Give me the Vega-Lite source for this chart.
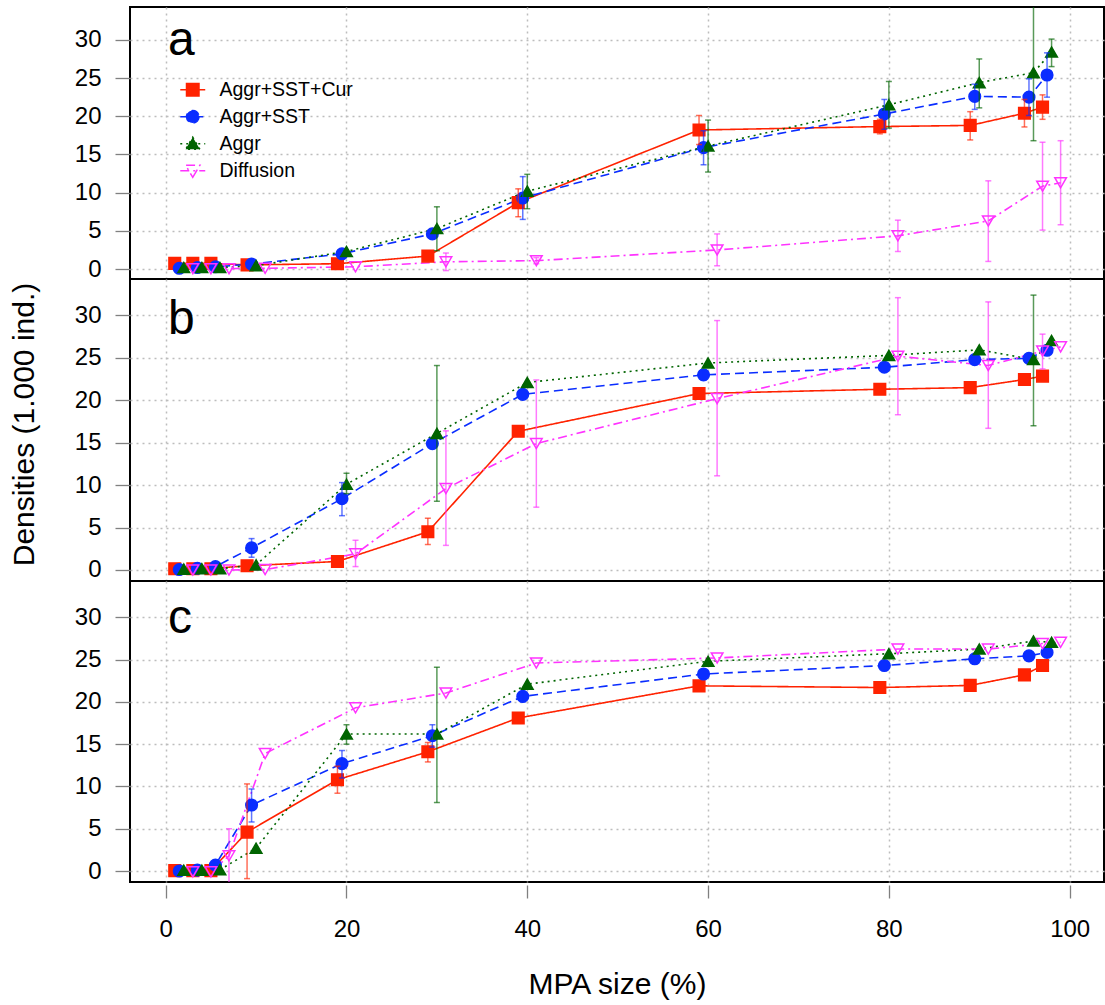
{
  "$schema": "https://vega.github.io/schema/vega-lite/v6.json",
  "background": "white",
  "padding": {"left": 8, "top": 6, "right": 0, "bottom": 0},
  "spacing": 0,
  "bounds": "flush",
  "config": {
    "font": "Liberation Sans",
    "view": {"stroke": "#000000", "strokeWidth": 2},
    "axis": {
      "grid": true, "gridColor": "#bdbdbd", "gridDash": [2, 4], "gridWidth": 1.5,
      "domain": false, "tickColor": "#808080", "tickWidth": 1.3,
      "labelColor": "#000000", "labelFont": "Liberation Sans", "labelFontSize": 24,
      "titleFont": "Liberation Sans", "titleFontWeight": "normal", "titleColor": "#000000"
    }
  },
  "resolve": {"legend": {"stroke": "independent", "strokeDash": "independent", "shape": "independent", "fill": "independent", "color": "independent"}},
  "datasets": {
    "pts": [
      {"p":"a","s":"Aggr+SST+Cur","x":1,"y":0.75},{"p":"a","s":"Aggr+SST+Cur","x":3,"y":0.75},{"p":"a","s":"Aggr+SST+Cur","x":5,"y":0.75},{"p":"a","s":"Aggr+SST+Cur","x":9,"y":0.55},{"p":"a","s":"Aggr+SST+Cur","x":19,"y":0.7},{"p":"a","s":"Aggr+SST+Cur","x":29,"y":1.7},{"p":"a","s":"Aggr+SST+Cur","x":39,"y":8.7},{"p":"a","s":"Aggr+SST+Cur","x":59,"y":18.2},{"p":"a","s":"Aggr+SST+Cur","x":79,"y":18.65},{"p":"a","s":"Aggr+SST+Cur","x":89,"y":18.8},{"p":"a","s":"Aggr+SST+Cur","x":95,"y":20.4},{"p":"a","s":"Aggr+SST+Cur","x":97,"y":21.2},
      {"p":"a","s":"Aggr+SST","x":1.5,"y":0.1},{"p":"a","s":"Aggr+SST","x":3.5,"y":0.2},{"p":"a","s":"Aggr+SST","x":5.5,"y":0.3},{"p":"a","s":"Aggr+SST","x":9.5,"y":0.65},{"p":"a","s":"Aggr+SST","x":19.5,"y":2.0},{"p":"a","s":"Aggr+SST","x":29.5,"y":4.6},{"p":"a","s":"Aggr+SST","x":39.5,"y":9.3},{"p":"a","s":"Aggr+SST","x":59.5,"y":15.9},{"p":"a","s":"Aggr+SST","x":79.5,"y":20.3},{"p":"a","s":"Aggr+SST","x":89.5,"y":22.6},{"p":"a","s":"Aggr+SST","x":95.5,"y":22.5},{"p":"a","s":"Aggr+SST","x":97.5,"y":25.4},
      {"p":"a","s":"Aggr","x":2,"y":0.2},{"p":"a","s":"Aggr","x":4,"y":0.2},{"p":"a","s":"Aggr","x":6,"y":0.2},{"p":"a","s":"Aggr","x":10,"y":0.45},{"p":"a","s":"Aggr","x":20,"y":2.3},{"p":"a","s":"Aggr","x":30,"y":5.3},{"p":"a","s":"Aggr","x":40,"y":10.2},{"p":"a","s":"Aggr","x":60,"y":16.1},{"p":"a","s":"Aggr","x":80,"y":21.5},{"p":"a","s":"Aggr","x":90,"y":24.4},{"p":"a","s":"Aggr","x":96,"y":25.7},{"p":"a","s":"Aggr","x":98,"y":28.4},
      {"p":"a","s":"Diffusion","x":3,"y":0.05},{"p":"a","s":"Diffusion","x":5,"y":0.05},{"p":"a","s":"Diffusion","x":7,"y":0.05},{"p":"a","s":"Diffusion","x":11,"y":0.1},{"p":"a","s":"Diffusion","x":21,"y":0.3},{"p":"a","s":"Diffusion","x":31,"y":0.95},{"p":"a","s":"Diffusion","x":41,"y":1.1},{"p":"a","s":"Diffusion","x":61,"y":2.5},{"p":"a","s":"Diffusion","x":81,"y":4.35},{"p":"a","s":"Diffusion","x":91,"y":6.3},{"p":"a","s":"Diffusion","x":97,"y":10.85},{"p":"a","s":"Diffusion","x":99,"y":11.3},
      {"p":"b","s":"Aggr+SST+Cur","x":1,"y":0.15},{"p":"b","s":"Aggr+SST+Cur","x":3,"y":0.15},{"p":"b","s":"Aggr+SST+Cur","x":5,"y":0.15},{"p":"b","s":"Aggr+SST+Cur","x":9,"y":0.5},{"p":"b","s":"Aggr+SST+Cur","x":19,"y":1.0},{"p":"b","s":"Aggr+SST+Cur","x":29,"y":4.5},{"p":"b","s":"Aggr+SST+Cur","x":39,"y":16.35},{"p":"b","s":"Aggr+SST+Cur","x":59,"y":20.8},{"p":"b","s":"Aggr+SST+Cur","x":79,"y":21.3},{"p":"b","s":"Aggr+SST+Cur","x":89,"y":21.5},{"p":"b","s":"Aggr+SST+Cur","x":95,"y":22.45},{"p":"b","s":"Aggr+SST+Cur","x":97,"y":22.85},
      {"p":"b","s":"Aggr+SST","x":1.5,"y":0.05},{"p":"b","s":"Aggr+SST","x":3.5,"y":0.2},{"p":"b","s":"Aggr+SST","x":5.5,"y":0.4},{"p":"b","s":"Aggr+SST","x":9.5,"y":2.6},{"p":"b","s":"Aggr+SST","x":19.5,"y":8.4},{"p":"b","s":"Aggr+SST","x":29.5,"y":14.9},{"p":"b","s":"Aggr+SST","x":39.5,"y":20.7},{"p":"b","s":"Aggr+SST","x":59.5,"y":23.0},{"p":"b","s":"Aggr+SST","x":79.5,"y":23.9},{"p":"b","s":"Aggr+SST","x":89.5,"y":24.8},{"p":"b","s":"Aggr+SST","x":95.5,"y":24.95},{"p":"b","s":"Aggr+SST","x":97.5,"y":25.9},
      {"p":"b","s":"Aggr","x":2,"y":0.1},{"p":"b","s":"Aggr","x":4,"y":0.15},{"p":"b","s":"Aggr","x":6,"y":0.15},{"p":"b","s":"Aggr","x":10,"y":0.6},{"p":"b","s":"Aggr","x":20,"y":10.1},{"p":"b","s":"Aggr","x":30,"y":16.1},{"p":"b","s":"Aggr","x":40,"y":22.1},{"p":"b","s":"Aggr","x":60,"y":24.4},{"p":"b","s":"Aggr","x":80,"y":25.3},{"p":"b","s":"Aggr","x":90,"y":25.95},{"p":"b","s":"Aggr","x":96,"y":24.8},{"p":"b","s":"Aggr","x":98,"y":27.05},
      {"p":"b","s":"Diffusion","x":3,"y":0},{"p":"b","s":"Diffusion","x":5,"y":0},{"p":"b","s":"Diffusion","x":7,"y":0},{"p":"b","s":"Diffusion","x":11,"y":0.05},{"p":"b","s":"Diffusion","x":21,"y":1.9},{"p":"b","s":"Diffusion","x":31,"y":9.6},{"p":"b","s":"Diffusion","x":41,"y":14.9},{"p":"b","s":"Diffusion","x":61,"y":20.2},{"p":"b","s":"Diffusion","x":81,"y":25.2},{"p":"b","s":"Diffusion","x":91,"y":24.1},{"p":"b","s":"Diffusion","x":97,"y":25.8},{"p":"b","s":"Diffusion","x":99,"y":26.3},
      {"p":"c","s":"Aggr+SST+Cur","x":1,"y":0.05},{"p":"c","s":"Aggr+SST+Cur","x":3,"y":0.05},{"p":"c","s":"Aggr+SST+Cur","x":5,"y":0.05},{"p":"c","s":"Aggr+SST+Cur","x":9,"y":4.6},{"p":"c","s":"Aggr+SST+Cur","x":19,"y":10.8},{"p":"c","s":"Aggr+SST+Cur","x":29,"y":14.1},{"p":"c","s":"Aggr+SST+Cur","x":39,"y":18.1},{"p":"c","s":"Aggr+SST+Cur","x":59,"y":21.9},{"p":"c","s":"Aggr+SST+Cur","x":79,"y":21.7},{"p":"c","s":"Aggr+SST+Cur","x":89,"y":21.95},{"p":"c","s":"Aggr+SST+Cur","x":95,"y":23.2},{"p":"c","s":"Aggr+SST+Cur","x":97,"y":24.3},
      {"p":"c","s":"Aggr+SST","x":1.5,"y":0},{"p":"c","s":"Aggr+SST","x":3.5,"y":0.1},{"p":"c","s":"Aggr+SST","x":5.5,"y":0.7},{"p":"c","s":"Aggr+SST","x":9.5,"y":7.8},{"p":"c","s":"Aggr+SST","x":19.5,"y":12.7},{"p":"c","s":"Aggr+SST","x":29.5,"y":16.0},{"p":"c","s":"Aggr+SST","x":39.5,"y":20.65},{"p":"c","s":"Aggr+SST","x":59.5,"y":23.3},{"p":"c","s":"Aggr+SST","x":79.5,"y":24.3},{"p":"c","s":"Aggr+SST","x":89.5,"y":25.1},{"p":"c","s":"Aggr+SST","x":95.5,"y":25.45},{"p":"c","s":"Aggr+SST","x":97.5,"y":25.85},
      {"p":"c","s":"Aggr","x":2,"y":0.1},{"p":"c","s":"Aggr","x":4,"y":0.1},{"p":"c","s":"Aggr","x":6,"y":0.15},{"p":"c","s":"Aggr","x":10,"y":2.7},{"p":"c","s":"Aggr","x":20,"y":16.2},{"p":"c","s":"Aggr","x":30,"y":16.2},{"p":"c","s":"Aggr","x":40,"y":22.1},{"p":"c","s":"Aggr","x":60,"y":24.8},{"p":"c","s":"Aggr","x":80,"y":25.7},{"p":"c","s":"Aggr","x":90,"y":26.25},{"p":"c","s":"Aggr","x":96,"y":27.2},{"p":"c","s":"Aggr","x":98,"y":27.05},
      {"p":"c","s":"Diffusion","x":3,"y":-0.1},{"p":"c","s":"Diffusion","x":5,"y":-0.1},{"p":"c","s":"Diffusion","x":7,"y":1.8},{"p":"c","s":"Diffusion","x":11,"y":13.9},{"p":"c","s":"Diffusion","x":21,"y":19.3},{"p":"c","s":"Diffusion","x":31,"y":21.05},{"p":"c","s":"Diffusion","x":41,"y":24.6},{"p":"c","s":"Diffusion","x":61,"y":25.2},{"p":"c","s":"Diffusion","x":81,"y":26.25},{"p":"c","s":"Diffusion","x":91,"y":26.25},{"p":"c","s":"Diffusion","x":97,"y":26.9},{"p":"c","s":"Diffusion","x":99,"y":27.05}
    ],
    "err": [
      {"p":"a","s":"Aggr+SST+Cur","x":39,"lo":6.85,"hi":10.5},{"p":"a","s":"Aggr+SST+Cur","x":59,"lo":16.3,"hi":20.1},{"p":"a","s":"Aggr+SST+Cur","x":79,"lo":17.7,"hi":19.6},{"p":"a","s":"Aggr+SST+Cur","x":89,"lo":16.9,"hi":20.6},{"p":"a","s":"Aggr+SST+Cur","x":95,"lo":18.6,"hi":22.2},{"p":"a","s":"Aggr+SST+Cur","x":97,"lo":19.6,"hi":22.8},
      {"p":"a","s":"Aggr+SST","x":39.5,"lo":6.5,"hi":12.1},{"p":"a","s":"Aggr+SST","x":59.5,"lo":13.65,"hi":18.1},{"p":"a","s":"Aggr+SST","x":79.5,"lo":18.3,"hi":22.2},{"p":"a","s":"Aggr+SST","x":89.5,"lo":20.9,"hi":24.2},{"p":"a","s":"Aggr+SST","x":95.5,"lo":20.1,"hi":24.9},{"p":"a","s":"Aggr+SST","x":97.5,"lo":22.5,"hi":28.3},
      {"p":"a","s":"Aggr","x":30,"lo":2.4,"hi":8.15},{"p":"a","s":"Aggr","x":40,"lo":7.9,"hi":12.4},{"p":"a","s":"Aggr","x":60,"lo":12.7,"hi":19.5},{"p":"a","s":"Aggr","x":80,"lo":18.45,"hi":24.55},{"p":"a","s":"Aggr","x":90,"lo":21.1,"hi":27.5},{"p":"a","s":"Aggr","x":96,"lo":16.8,"hi":34.6},{"p":"a","s":"Aggr","x":98,"lo":26.5,"hi":30.1},
      {"p":"a","s":"Diffusion","x":31,"lo":-0.2,"hi":2.1},{"p":"a","s":"Diffusion","x":41,"lo":0.7,"hi":1.5},{"p":"a","s":"Diffusion","x":61,"lo":0.43,"hi":4.6},{"p":"a","s":"Diffusion","x":81,"lo":2.3,"hi":6.4},{"p":"a","s":"Diffusion","x":91,"lo":1.0,"hi":11.55},{"p":"a","s":"Diffusion","x":97,"lo":5.1,"hi":16.6},{"p":"a","s":"Diffusion","x":99,"lo":5.8,"hi":16.8},
      {"p":"b","s":"Aggr+SST+Cur","x":29,"lo":3.0,"hi":6.1},
      {"p":"b","s":"Aggr+SST","x":9.5,"lo":1.5,"hi":3.7},{"p":"b","s":"Aggr+SST","x":19.5,"lo":6.4,"hi":10.3},{"p":"b","s":"Aggr+SST","x":59.5,"lo":22.4,"hi":23.6},
      {"p":"b","s":"Aggr","x":20,"lo":9.0,"hi":11.4},{"p":"b","s":"Aggr","x":30,"lo":8.1,"hi":24.1},{"p":"b","s":"Aggr","x":96,"lo":17.0,"hi":32.4},
      {"p":"b","s":"Diffusion","x":21,"lo":0.4,"hi":3.5},{"p":"b","s":"Diffusion","x":31,"lo":2.9,"hi":16.4},{"p":"b","s":"Diffusion","x":41,"lo":7.4,"hi":22.4},{"p":"b","s":"Diffusion","x":61,"lo":11.1,"hi":29.4},{"p":"b","s":"Diffusion","x":81,"lo":18.3,"hi":32.1},{"p":"b","s":"Diffusion","x":91,"lo":16.7,"hi":31.6},{"p":"b","s":"Diffusion","x":97,"lo":23.7,"hi":27.8},
      {"p":"c","s":"Aggr+SST+Cur","x":9,"lo":-0.9,"hi":10.3},{"p":"c","s":"Aggr+SST+Cur","x":19,"lo":9.2,"hi":12.4},{"p":"c","s":"Aggr+SST+Cur","x":29,"lo":12.9,"hi":15.2},
      {"p":"c","s":"Aggr+SST","x":9.5,"lo":5.8,"hi":9.7},{"p":"c","s":"Aggr+SST","x":19.5,"lo":11.0,"hi":14.25},{"p":"c","s":"Aggr+SST","x":29.5,"lo":14.65,"hi":17.3},{"p":"c","s":"Aggr+SST","x":39.5,"lo":20.0,"hi":21.2},
      {"p":"c","s":"Aggr","x":20,"lo":15.0,"hi":17.3},{"p":"c","s":"Aggr","x":30,"lo":8.1,"hi":24.1},
      {"p":"c","s":"Diffusion","x":7,"lo":-1.5,"hi":5.0}
    ]
  },
  "vconcat": [
    {
      "width": 974, "height": 272,
      "layer": [
        {"data": {"name": "pts"}, "transform": [{"filter": "datum.p === 'a'"}],
         "mark": {"type": "line", "strokeWidth": 1.6},
         "encoding": {
           "x": {"field": "x", "type": "quantitative", "scale": {"domain": [-3.95, 103.8], "nice": false, "zero": false}, "axis": {"values": [0,20,40,60,80,100], "labels": false, "ticks": false, "title": null}},
           "y": {"field": "y", "type": "quantitative", "scale": {"domain": [-1.3, 34.3], "nice": false, "zero": false}, "axis": {"values": [0,5,10,15,20,25,30], "title": null, "tickSize": 15, "labelPadding": 14}},
           "stroke": {"field": "s", "type": "nominal", "scale": {"domain": ["Aggr+SST+Cur","Aggr+SST","Aggr","Diffusion"], "range": ["#ff2200","#0a2dff","#006400","#ff33ff"]},
             "legend": {"title": null, "orient": "none", "legendX": 53, "legendY": 73, "padding": 0, "labelFontSize": 19.5, "labelColor": "#000000", "labelLimit": 400, "symbolSize": 156, "symbolStrokeWidth": 1.5, "labelOffset": 17, "rowPadding": 6,
               "encode": {"symbols": {"update": {
                 "size": {"value": 156},
                 "shape": {"signal": "datum.value === 'Aggr+SST+Cur' ? 'M-2,0H2M-1,-1H1V1H-1Z' : datum.value === 'Aggr+SST' ? 'M-2,0H2M1,0A1 1 0 1 1 -1,0A1 1 0 1 1 1,0Z' : datum.value === 'Aggr' ? 'M-2,0H2M0,-1.05L1.15,0.9H-1.15Z' : 'M-2,0H2M0,1.05L1.15,-0.9H-1.15Z'"},
                 "fill": {"signal": "datum.value === 'Aggr+SST+Cur' ? '#ff2200' : datum.value === 'Aggr+SST' ? '#0a2dff' : datum.value === 'Aggr' ? '#006400' : 'transparent'"},
                 "strokeDash": {"signal": "datum.value === 'Aggr+SST+Cur' ? [1,0] : datum.value === 'Aggr+SST' ? [9,5] : datum.value === 'Aggr' ? [2,4] : [9,4,2,4]"},
                 "strokeWidth": {"value": 1.5},
                 "opacity": {"value": 1}
               }}}}},
           "strokeDash": {"field": "s", "type": "nominal", "scale": {"domain": ["Diffusion","Aggr","Aggr+SST","Aggr+SST+Cur"], "range": [[9,4,2,4],[2,4],[9,5],[1,0]]}, "legend": null}
         }},
        {"data": {"name": "pts"}, "transform": [{"filter": "datum.p === 'a'"}],
         "mark": {"type": "point", "size": 135, "strokeWidth": 1.5, "opacity": 1},
         "encoding": {
           "x": {"field": "x", "type": "quantitative", "scale": {"domain": [-3.95, 103.8], "nice": false, "zero": false}, "axis": {"values": [0,20,40,60,80,100], "labels": false, "ticks": false, "title": null}},
           "y": {"field": "y", "type": "quantitative", "scale": {"domain": [-1.3, 34.3], "nice": false, "zero": false}, "axis": {"values": [0,5,10,15,20,25,30], "title": null, "tickSize": 15, "labelPadding": 14}},
           "stroke": {"field": "s", "type": "nominal", "scale": {"domain": ["Aggr+SST+Cur","Aggr+SST","Aggr","Diffusion"], "range": ["#ff2200","#0a2dff","#006400","#ff33ff"]},
             "legend": {"title": null, "orient": "none", "legendX": 53, "legendY": 73, "padding": 0, "labelFontSize": 19.5, "labelColor": "#000000", "labelLimit": 400, "symbolSize": 156, "symbolStrokeWidth": 1.5, "labelOffset": 17, "rowPadding": 6,
               "encode": {"symbols": {"update": {
                 "size": {"value": 156},
                 "shape": {"signal": "datum.value === 'Aggr+SST+Cur' ? 'M-2,0H2M-1,-1H1V1H-1Z' : datum.value === 'Aggr+SST' ? 'M-2,0H2M1,0A1 1 0 1 1 -1,0A1 1 0 1 1 1,0Z' : datum.value === 'Aggr' ? 'M-2,0H2M0,-1.05L1.15,0.9H-1.15Z' : 'M-2,0H2M0,1.05L1.15,-0.9H-1.15Z'"},
                 "fill": {"signal": "datum.value === 'Aggr+SST+Cur' ? '#ff2200' : datum.value === 'Aggr+SST' ? '#0a2dff' : datum.value === 'Aggr' ? '#006400' : 'transparent'"},
                 "strokeDash": {"signal": "datum.value === 'Aggr+SST+Cur' ? [1,0] : datum.value === 'Aggr+SST' ? [9,5] : datum.value === 'Aggr' ? [2,4] : [9,4,2,4]"},
                 "strokeWidth": {"value": 1.5},
                 "opacity": {"value": 1}
               }}}}},
           "fill": {"field": "s", "type": "nominal", "scale": {"domain": ["Diffusion","Aggr","Aggr+SST","Aggr+SST+Cur"], "range": ["transparent","#006400","#0a2dff","#ff2200"]}, "legend": null},
           "shape": {"field": "s", "type": "nominal", "scale": {"domain": ["Diffusion","Aggr","Aggr+SST","Aggr+SST+Cur"], "range": ["triangle-down","triangle-up","circle","square"]}, "legend": null}
         }},
        {"data": {"name": "err"}, "transform": [{"filter": "datum.p === 'a'"}],
         "mark": {"type": "rule", "strokeWidth": 1.5, "opacity": 0.65, "clip": true},
         "encoding": {
           "x": {"field": "x", "type": "quantitative", "scale": {"domain": [-3.95, 103.8], "nice": false, "zero": false}, "axis": {"values": [0,20,40,60,80,100], "labels": false, "ticks": false, "title": null}},
           "y": {"field": "lo", "type": "quantitative", "scale": {"domain": [-1.3, 34.3], "nice": false, "zero": false}, "axis": {"values": [0,5,10,15,20,25,30], "title": null, "tickSize": 15, "labelPadding": 14}},
           "y2": {"field": "hi"},
           "color": {"field": "s", "type": "nominal", "scale": {"domain": ["Aggr+SST","Aggr+SST+Cur","Diffusion","Aggr"], "range": ["#0a2dff","#ff2200","#ff33ff","#006400"]}, "legend": null}
         }},
        {"data": {"name": "err"}, "transform": [{"filter": "datum.p === 'a'"}],
         "mark": {"type": "tick", "orient": "horizontal", "size": 6, "thickness": 1.5, "opacity": 0.65, "clip": true},
         "encoding": {
           "x": {"field": "x", "type": "quantitative", "scale": {"domain": [-3.95, 103.8], "nice": false, "zero": false}, "axis": {"values": [0,20,40,60,80,100], "labels": false, "ticks": false, "title": null}},
           "y": {"field": "lo", "type": "quantitative", "scale": {"domain": [-1.3, 34.3], "nice": false, "zero": false}, "axis": {"values": [0,5,10,15,20,25,30], "title": null, "tickSize": 15, "labelPadding": 14}},
           "color": {"field": "s", "type": "nominal", "scale": {"domain": ["Aggr+SST","Aggr+SST+Cur","Diffusion","Aggr"], "range": ["#0a2dff","#ff2200","#ff33ff","#006400"]}, "legend": null}
         }},
        {"data": {"name": "err"}, "transform": [{"filter": "datum.p === 'a'"}],
         "mark": {"type": "tick", "orient": "horizontal", "size": 6, "thickness": 1.5, "opacity": 0.65, "clip": true},
         "encoding": {
           "x": {"field": "x", "type": "quantitative", "scale": {"domain": [-3.95, 103.8], "nice": false, "zero": false}, "axis": {"values": [0,20,40,60,80,100], "labels": false, "ticks": false, "title": null}},
           "y": {"field": "hi", "type": "quantitative", "scale": {"domain": [-1.3, 34.3], "nice": false, "zero": false}, "axis": {"values": [0,5,10,15,20,25,30], "title": null, "tickSize": 15, "labelPadding": 14}},
           "color": {"field": "s", "type": "nominal", "scale": {"domain": ["Aggr+SST","Aggr+SST+Cur","Diffusion","Aggr"], "range": ["#0a2dff","#ff2200","#ff33ff","#006400"]}, "legend": null}
         }},
        {"data": {"values": [{"t": "a"}]},
         "mark": {"type": "text", "fontSize": 48, "align": "left", "baseline": "alphabetic", "color": "#000000"},
         "encoding": {
           "x": {"datum": 0.25, "type": "quantitative", "scale": {"domain": [-3.95, 103.8], "nice": false, "zero": false}},
           "y": {"datum": 28, "type": "quantitative", "scale": {"domain": [-1.3, 34.3], "nice": false, "zero": false}},
           "text": {"field": "t"}
         }}
      ]
    },
    {
      "width": 974, "height": 302,
      "layer": [
        {"data": {"name": "pts"}, "transform": [{"filter": "datum.p === 'b'"}],
         "mark": {"type": "line", "strokeWidth": 1.6},
         "encoding": {
           "x": {"field": "x", "type": "quantitative", "scale": {"domain": [-3.95, 103.8], "nice": false, "zero": false}, "axis": {"values": [0,20,40,60,80,100], "labels": false, "ticks": false, "title": null}},
           "y": {"field": "y", "type": "quantitative", "scale": {"domain": [-1.3, 34.3], "nice": false, "zero": false}, "axis": {"values": [0,5,10,15,20,25,30], "title": "Densities (1.000 ind.)", "titleFontSize": 30, "titlePadding": 35, "titleY": 145, "tickSize": 15, "labelPadding": 14}},
           "stroke": {"field": "s", "type": "nominal", "scale": {"domain": ["Aggr+SST+Cur","Aggr+SST","Aggr","Diffusion"], "range": ["#ff2200","#0a2dff","#006400","#ff33ff"]}, "legend": null},
           "strokeDash": {"field": "s", "type": "nominal", "scale": {"domain": ["Diffusion","Aggr","Aggr+SST","Aggr+SST+Cur"], "range": [[9,4,2,4],[2,4],[9,5],[1,0]]}, "legend": null}
         }},
        {"data": {"name": "pts"}, "transform": [{"filter": "datum.p === 'b'"}],
         "mark": {"type": "point", "size": 135, "strokeWidth": 1.5, "opacity": 1},
         "encoding": {
           "x": {"field": "x", "type": "quantitative", "scale": {"domain": [-3.95, 103.8], "nice": false, "zero": false}, "axis": {"values": [0,20,40,60,80,100], "labels": false, "ticks": false, "title": null}},
           "y": {"field": "y", "type": "quantitative", "scale": {"domain": [-1.3, 34.3], "nice": false, "zero": false}, "axis": {"values": [0,5,10,15,20,25,30], "title": "Densities (1.000 ind.)", "titleFontSize": 30, "titlePadding": 35, "titleY": 145, "tickSize": 15, "labelPadding": 14}},
           "stroke": {"field": "s", "type": "nominal", "scale": {"domain": ["Aggr+SST+Cur","Aggr+SST","Aggr","Diffusion"], "range": ["#ff2200","#0a2dff","#006400","#ff33ff"]}, "legend": null},
           "fill": {"field": "s", "type": "nominal", "scale": {"domain": ["Diffusion","Aggr","Aggr+SST","Aggr+SST+Cur"], "range": ["transparent","#006400","#0a2dff","#ff2200"]}, "legend": null},
           "shape": {"field": "s", "type": "nominal", "scale": {"domain": ["Diffusion","Aggr","Aggr+SST","Aggr+SST+Cur"], "range": ["triangle-down","triangle-up","circle","square"]}, "legend": null}
         }},
        {"data": {"name": "err"}, "transform": [{"filter": "datum.p === 'b'"}],
         "mark": {"type": "rule", "strokeWidth": 1.5, "opacity": 0.65, "clip": true},
         "encoding": {
           "x": {"field": "x", "type": "quantitative", "scale": {"domain": [-3.95, 103.8], "nice": false, "zero": false}, "axis": {"values": [0,20,40,60,80,100], "labels": false, "ticks": false, "title": null}},
           "y": {"field": "lo", "type": "quantitative", "scale": {"domain": [-1.3, 34.3], "nice": false, "zero": false}, "axis": {"values": [0,5,10,15,20,25,30], "title": "Densities (1.000 ind.)", "titleFontSize": 30, "titlePadding": 35, "titleY": 145, "tickSize": 15, "labelPadding": 14}},
           "y2": {"field": "hi"},
           "color": {"field": "s", "type": "nominal", "scale": {"domain": ["Aggr+SST","Aggr+SST+Cur","Diffusion","Aggr"], "range": ["#0a2dff","#ff2200","#ff33ff","#006400"]}, "legend": null}
         }},
        {"data": {"name": "err"}, "transform": [{"filter": "datum.p === 'b'"}],
         "mark": {"type": "tick", "orient": "horizontal", "size": 6, "thickness": 1.5, "opacity": 0.65, "clip": true},
         "encoding": {
           "x": {"field": "x", "type": "quantitative", "scale": {"domain": [-3.95, 103.8], "nice": false, "zero": false}, "axis": {"values": [0,20,40,60,80,100], "labels": false, "ticks": false, "title": null}},
           "y": {"field": "lo", "type": "quantitative", "scale": {"domain": [-1.3, 34.3], "nice": false, "zero": false}, "axis": {"values": [0,5,10,15,20,25,30], "title": "Densities (1.000 ind.)", "titleFontSize": 30, "titlePadding": 35, "titleY": 145, "tickSize": 15, "labelPadding": 14}},
           "color": {"field": "s", "type": "nominal", "scale": {"domain": ["Aggr+SST","Aggr+SST+Cur","Diffusion","Aggr"], "range": ["#0a2dff","#ff2200","#ff33ff","#006400"]}, "legend": null}
         }},
        {"data": {"name": "err"}, "transform": [{"filter": "datum.p === 'b'"}],
         "mark": {"type": "tick", "orient": "horizontal", "size": 6, "thickness": 1.5, "opacity": 0.65, "clip": true},
         "encoding": {
           "x": {"field": "x", "type": "quantitative", "scale": {"domain": [-3.95, 103.8], "nice": false, "zero": false}, "axis": {"values": [0,20,40,60,80,100], "labels": false, "ticks": false, "title": null}},
           "y": {"field": "hi", "type": "quantitative", "scale": {"domain": [-1.3, 34.3], "nice": false, "zero": false}, "axis": {"values": [0,5,10,15,20,25,30], "title": "Densities (1.000 ind.)", "titleFontSize": 30, "titlePadding": 35, "titleY": 145, "tickSize": 15, "labelPadding": 14}},
           "color": {"field": "s", "type": "nominal", "scale": {"domain": ["Aggr+SST","Aggr+SST+Cur","Diffusion","Aggr"], "range": ["#0a2dff","#ff2200","#ff33ff","#006400"]}, "legend": null}
         }},
        {"data": {"values": [{"t": "b"}]},
         "mark": {"type": "text", "fontSize": 48, "align": "left", "baseline": "alphabetic", "color": "#000000"},
         "encoding": {
           "x": {"datum": 0.25, "type": "quantitative", "scale": {"domain": [-3.95, 103.8], "nice": false, "zero": false}},
           "y": {"datum": 27.8, "type": "quantitative", "scale": {"domain": [-1.3, 34.3], "nice": false, "zero": false}},
           "text": {"field": "t"}
         }}
      ]
    },
    {
      "width": 974, "height": 301,
      "layer": [
        {"data": {"name": "pts"}, "transform": [{"filter": "datum.p === 'c'"}],
         "mark": {"type": "line", "strokeWidth": 1.6},
         "encoding": {
           "x": {"field": "x", "type": "quantitative", "scale": {"domain": [-3.95, 103.8], "nice": false, "zero": false}, "axis": {"values": [0,20,40,60,80,100], "title": "MPA size (%)", "titleFontSize": 30, "titlePadding": 28, "offset": 3, "tickSize": 13, "labelPadding": 19}},
           "y": {"field": "y", "type": "quantitative", "scale": {"domain": [-1.3, 34.3], "nice": false, "zero": false}, "axis": {"values": [0,5,10,15,20,25,30], "title": null, "tickSize": 15, "labelPadding": 14}},
           "stroke": {"field": "s", "type": "nominal", "scale": {"domain": ["Aggr+SST+Cur","Aggr+SST","Aggr","Diffusion"], "range": ["#ff2200","#0a2dff","#006400","#ff33ff"]}, "legend": null},
           "strokeDash": {"field": "s", "type": "nominal", "scale": {"domain": ["Diffusion","Aggr","Aggr+SST","Aggr+SST+Cur"], "range": [[9,4,2,4],[2,4],[9,5],[1,0]]}, "legend": null}
         }},
        {"data": {"name": "pts"}, "transform": [{"filter": "datum.p === 'c'"}],
         "mark": {"type": "point", "size": 135, "strokeWidth": 1.5, "opacity": 1},
         "encoding": {
           "x": {"field": "x", "type": "quantitative", "scale": {"domain": [-3.95, 103.8], "nice": false, "zero": false}, "axis": {"values": [0,20,40,60,80,100], "title": "MPA size (%)", "titleFontSize": 30, "titlePadding": 28, "offset": 3, "tickSize": 13, "labelPadding": 19}},
           "y": {"field": "y", "type": "quantitative", "scale": {"domain": [-1.3, 34.3], "nice": false, "zero": false}, "axis": {"values": [0,5,10,15,20,25,30], "title": null, "tickSize": 15, "labelPadding": 14}},
           "stroke": {"field": "s", "type": "nominal", "scale": {"domain": ["Aggr+SST+Cur","Aggr+SST","Aggr","Diffusion"], "range": ["#ff2200","#0a2dff","#006400","#ff33ff"]}, "legend": null},
           "fill": {"field": "s", "type": "nominal", "scale": {"domain": ["Diffusion","Aggr","Aggr+SST","Aggr+SST+Cur"], "range": ["transparent","#006400","#0a2dff","#ff2200"]}, "legend": null},
           "shape": {"field": "s", "type": "nominal", "scale": {"domain": ["Diffusion","Aggr","Aggr+SST","Aggr+SST+Cur"], "range": ["triangle-down","triangle-up","circle","square"]}, "legend": null}
         }},
        {"data": {"name": "err"}, "transform": [{"filter": "datum.p === 'c'"}],
         "mark": {"type": "rule", "strokeWidth": 1.5, "opacity": 0.65, "clip": true},
         "encoding": {
           "x": {"field": "x", "type": "quantitative", "scale": {"domain": [-3.95, 103.8], "nice": false, "zero": false}, "axis": {"values": [0,20,40,60,80,100], "title": "MPA size (%)", "titleFontSize": 30, "titlePadding": 28, "offset": 3, "tickSize": 13, "labelPadding": 19}},
           "y": {"field": "lo", "type": "quantitative", "scale": {"domain": [-1.3, 34.3], "nice": false, "zero": false}, "axis": {"values": [0,5,10,15,20,25,30], "title": null, "tickSize": 15, "labelPadding": 14}},
           "y2": {"field": "hi"},
           "color": {"field": "s", "type": "nominal", "scale": {"domain": ["Aggr+SST","Aggr+SST+Cur","Diffusion","Aggr"], "range": ["#0a2dff","#ff2200","#ff33ff","#006400"]}, "legend": null}
         }},
        {"data": {"name": "err"}, "transform": [{"filter": "datum.p === 'c'"}],
         "mark": {"type": "tick", "orient": "horizontal", "size": 6, "thickness": 1.5, "opacity": 0.65, "clip": true},
         "encoding": {
           "x": {"field": "x", "type": "quantitative", "scale": {"domain": [-3.95, 103.8], "nice": false, "zero": false}, "axis": {"values": [0,20,40,60,80,100], "title": "MPA size (%)", "titleFontSize": 30, "titlePadding": 28, "offset": 3, "tickSize": 13, "labelPadding": 19}},
           "y": {"field": "lo", "type": "quantitative", "scale": {"domain": [-1.3, 34.3], "nice": false, "zero": false}, "axis": {"values": [0,5,10,15,20,25,30], "title": null, "tickSize": 15, "labelPadding": 14}},
           "color": {"field": "s", "type": "nominal", "scale": {"domain": ["Aggr+SST","Aggr+SST+Cur","Diffusion","Aggr"], "range": ["#0a2dff","#ff2200","#ff33ff","#006400"]}, "legend": null}
         }},
        {"data": {"name": "err"}, "transform": [{"filter": "datum.p === 'c'"}],
         "mark": {"type": "tick", "orient": "horizontal", "size": 6, "thickness": 1.5, "opacity": 0.65, "clip": true},
         "encoding": {
           "x": {"field": "x", "type": "quantitative", "scale": {"domain": [-3.95, 103.8], "nice": false, "zero": false}, "axis": {"values": [0,20,40,60,80,100], "title": "MPA size (%)", "titleFontSize": 30, "titlePadding": 28, "offset": 3, "tickSize": 13, "labelPadding": 19}},
           "y": {"field": "hi", "type": "quantitative", "scale": {"domain": [-1.3, 34.3], "nice": false, "zero": false}, "axis": {"values": [0,5,10,15,20,25,30], "title": null, "tickSize": 15, "labelPadding": 14}},
           "color": {"field": "s", "type": "nominal", "scale": {"domain": ["Aggr+SST","Aggr+SST+Cur","Diffusion","Aggr"], "range": ["#0a2dff","#ff2200","#ff33ff","#006400"]}, "legend": null}
         }},
        {"data": {"values": [{"t": "c"}]},
         "mark": {"type": "text", "fontSize": 48, "align": "left", "baseline": "alphabetic", "color": "#000000"},
         "encoding": {
           "x": {"datum": 0.25, "type": "quantitative", "scale": {"domain": [-3.95, 103.8], "nice": false, "zero": false}},
           "y": {"datum": 28.2, "type": "quantitative", "scale": {"domain": [-1.3, 34.3], "nice": false, "zero": false}},
           "text": {"field": "t"}
         }}
      ]
    }
  ]
}
